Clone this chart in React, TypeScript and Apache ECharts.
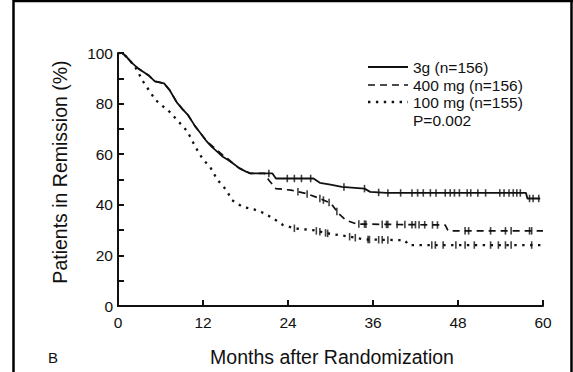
import React, { useEffect, useRef } from "react";
import * as echarts from "echarts";

// Kaplan-Meier curves: [month, percent in remission]
const curve3g: [number, number][] = [
  [0, 100], [0.6, 100], [1.2, 98.5], [2, 96], [2.8, 94], [3.6, 92.5], [4.4, 91], [5.2, 88.8],
  [6.5, 88], [7.3, 85.3], [8.3, 80.5], [9.2, 77.5], [9.9, 75.4], [10.9, 71], [11.6, 68.5],
  [12.4, 65.5], [13.2, 63], [14, 61], [14.8, 59], [15.6, 57.6], [16.4, 56], [17.1, 54.5],
  [18, 53.2], [18.7, 52.4], [21.8, 52.4], [22.3, 50.4], [27.6, 50.4], [28.5, 48.7], [30, 48],
  [31.6, 47.1], [34.8, 46.4], [35.6, 45.1], [37.9, 44.7], [57.6, 44.7], [57.8, 42.5], [59.6, 42.5],
];
const curve400: [number, number][] = [
  [0, 100], [0.6, 100], [1.2, 98.5], [2, 96], [2.8, 94], [3.6, 92.5], [4.4, 91], [5.2, 88.8],
  [6.5, 88], [7.3, 85.3], [8.3, 80.5], [9.2, 77.5], [9.9, 75.4], [10.9, 71], [11.6, 68.5],
  [12.4, 65.5], [13.2, 63.5], [14, 61.5], [14.8, 59.6], [15.6, 58], [16.4, 56], [17.1, 54.5],
  [18, 53.2], [18.7, 52.4], [20.7, 52.4], [21.3, 49.7], [22.3, 46.4], [24.4, 45.8], [26.5, 44.5],
  [28.5, 42.5], [30.1, 40.5], [31.1, 36.6], [32.2, 33.9], [33.7, 32.4], [46.2, 32.0], [46.6, 29.7],
  [60, 29.7],
];
const curve100: [number, number][] = [
  [0, 100], [0.6, 100], [1.2, 98.5], [2.4, 94.6], [3.6, 88.5], [5.3, 81.4], [7.3, 76.7],
  [8.8, 72.1], [9.8, 69], [10.9, 63], [12, 57.9], [13, 55], [14, 50], [15.3, 45.8], [16.1, 41.8],
  [17.6, 39.2], [19.2, 38.2], [20.7, 36.6], [22.3, 33.9], [23.3, 32], [24.9, 30.7], [27.5, 30],
  [29.6, 28.7], [32.7, 27.4], [34.8, 26.3], [40.5, 26], [41, 24.1], [60, 24.1],
];

// censoring times (months)
const cens3g = [21.3, 23.9, 24.9, 25.9, 27.2, 31.9, 34.8, 36.8, 38.1, 39.9, 41.5, 42.3, 43.1, 44.1,
  44.9, 46.2, 46.9, 47.5, 48.2, 49.3, 49.8, 50.8, 51.9, 53.9, 54.5, 55.2, 55.8, 56.3, 56.8, 58.1,
  58.6, 59.4];
const cens400 = [25.4, 26.7, 28.5, 29.0, 29.8, 30.9, 34.0, 34.8, 35.0, 37.3, 37.9, 38.1, 39.4, 40.5,
  41.5, 42.0, 42.5, 43.3, 44.4, 45.1, 49.0, 49.5, 52.6, 54.7, 55.5, 58.1, 58.4];
const cens100 = [24.9, 28.0, 28.5, 29.3, 29.6, 32.7, 33.5, 35.3, 35.5, 36.8, 37.3, 38.1, 44.3, 44.8,
  45.9, 47.7, 49.0, 50.3, 52.6, 53.7, 54.7, 55.5, 58.4];

const seriesNames = ["3g (n=156)", "400 mg (n=156)", "100 mg (n=155)"];
const pValueText = "P=0.002";
const xTitle = "Months after Randomization";
const yTitle = "Patients in Remission (%)";
const panelLabel = "B";

const INK = "#111";
const FONT = "Liberation Sans, Arial, Helvetica, sans-serif";

function valueAt(curve: [number, number][], t: number): number {
  for (let i = 1; i < curve.length; i++) {
    const [x0, y0] = curve[i - 1];
    const [x1, y1] = curve[i];
    if (t <= x1) {
      if (x1 === x0) return y1;
      return y0 + ((y1 - y0) * (t - x0)) / (x1 - x0);
    }
  }
  return curve[curve.length - 1][1];
}

export default function App() {
  const ref = useRef<HTMLDivElement>(null);
  useEffect(() => {
    if (!ref.current) return;
    const chart = echarts.init(ref.current, undefined, { renderer: "svg" });
    const dashes = [
      { type: "solid" as any, width: 1.8 },
      { type: [7, 5] as any, width: 1.7 },
      { type: [2.4, 5.5] as any, width: 2.3 },
    ];
    const curves = [curve3g, curve400, curve100];
    const cens = [cens3g, cens400, cens100];
    const lineSeries = curves.map((c, i) => ({
      type: "line",
      name: seriesNames[i],
      data: c,
      showSymbol: false,
      symbol: "none",
      lineStyle: { color: INK, width: dashes[i].width, type: dashes[i].type },
      z: 3,
    }));
    const censSeries = cens.map((arr, i) => ({
      type: "scatter",
      name: seriesNames[i] + " censored",
      data: arr.map((t) => [t, valueAt(curves[i], t)]),
      symbol: "rect",
      symbolSize: [1.6, 7.5],
      itemStyle: { color: INK },
      z: 4,
    }));
    const legendY = [67, 85, 102];
    const graphic: any[] = [
      // frame
      { type: "line", shape: { x1: 13.5, y1: 0, x2: 13.5, y2: 372 }, style: { stroke: "#000", lineWidth: 2.5 } },
      { type: "line", shape: { x1: 13, y1: 1, x2: 573, y2: 1 }, style: { stroke: "#000", lineWidth: 2.5 } },
      { type: "line", shape: { x1: 571.5, y1: 0, x2: 571.5, y2: 372 }, style: { stroke: "#000", lineWidth: 2.5 } },
      {
        type: "text", x: 332, y: 357,
        style: { text: xTitle, font: `19.5px ${FONT}`, fill: INK, align: "center", verticalAlign: "middle" },
      },
      {
        type: "text", x: 60, y: 172, rotation: Math.PI / 2,
        style: { text: yTitle, font: `19.5px ${FONT}`, fill: INK, align: "center", verticalAlign: "middle" },
      },
      {
        type: "text", x: 53, y: 357,
        style: { text: panelLabel, font: `15px ${FONT}`, fill: INK, align: "center", verticalAlign: "middle" },
      },
    ];
    seriesNames.forEach((n, i) => {
      graphic.push({
        type: "line",
        shape: { x1: 368, y1: legendY[i], x2: 408, y2: legendY[i] },
        style: {
          stroke: INK,
          lineWidth: dashes[i].width,
          lineDash: Array.isArray(dashes[i].type) ? dashes[i].type : null,
        },
      });
      graphic.push({
        type: "text", x: 413, y: legendY[i],
        style: { text: n, font: `15.5px ${FONT}`, fill: INK, align: "left", verticalAlign: "middle" },
      });
    });
    graphic.push({
      type: "text", x: 413, y: 120,
      style: { text: pValueText, font: `15.5px ${FONT}`, fill: INK, align: "left", verticalAlign: "middle" },
    });

    chart.setOption({
      animation: false,
      backgroundColor: "#fff",
      grid: { left: 118, right: 30, top: 53, bottom: 66 },
      xAxis: {
        type: "value", min: 0, max: 60, interval: 12,
        axisLine: { show: true, lineStyle: { color: INK, width: 2 } },
        axisTick: { show: true, inside: true, length: 6, lineStyle: { color: INK, width: 2 } },
        axisLabel: { fontSize: 15.5, color: INK, fontFamily: FONT, margin: 8 },
        splitLine: { show: false },
      },
      yAxis: {
        type: "value", min: 0, max: 100, interval: 20,
        axisLine: { show: true, lineStyle: { color: INK, width: 2 } },
        axisTick: { show: true, inside: true, length: 6, lineStyle: { color: INK, width: 2 } },
        minorTick: { show: true, splitNumber: 2, length: 6, lineStyle: { color: INK, width: 2 } },
        axisLabel: { fontSize: 15.5, color: INK, fontFamily: FONT, margin: 5 },
        splitLine: { show: false },
      },
      series: [...lineSeries, ...censSeries],
      graphic,
    });
    return () => chart.dispose();
  }, []);
  return (
    <div
      ref={ref}
      style={{ position: "fixed", left: 0, top: 0, width: 573, height: 372, background: "#fff" }}
    />
  );
}
